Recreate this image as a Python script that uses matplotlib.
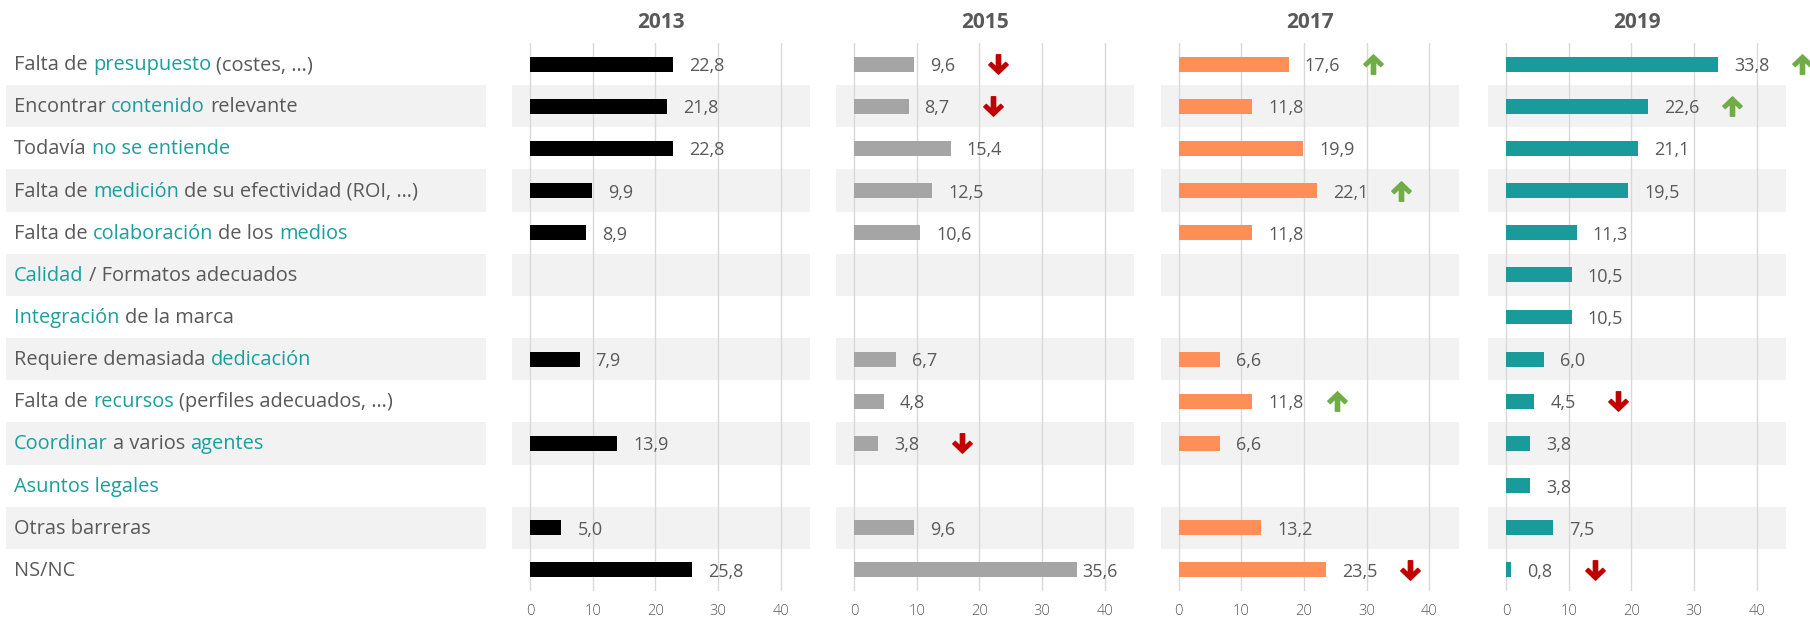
import re
import numpy as np
import matplotlib
matplotlib.use("Agg")
import matplotlib.pyplot as plt
from matplotlib.path import Path
from matplotlib.transforms import ScaledTranslation

plt.rcParams['font.family'] = ['Open Sans', 'DejaVu Sans']

# ---------------- data ----------------
# words in [brackets] are highlighted in teal
categories = [
    "Falta de [presupuesto] (costes, …)",
    "Encontrar [contenido] relevante",
    "Todavía [no se entiende]",
    "Falta de [medición] de su efectividad (ROI, …)",
    "Falta de [colaboración] de los [medios]",
    "[Calidad] / Formatos adecuados",
    "[Integración] de la marca",
    "Requiere demasiada [dedicación]",
    "Falta de [recursos] (perfiles adecuados, …)",
    "[Coordinar] a varios [agentes]",
    "[Asuntos legales]",
    "Otras barreras",
    "NS/NC",
]
years = ["2013", "2015", "2017", "2019"]
nan = np.nan
v2013 = [22.8, 21.8, 22.8, 9.9, 8.9, nan, nan, 7.9, nan, 13.9, nan, 5.0, 25.8]
v2015 = [9.6, 8.7, 15.4, 12.5, 10.6, nan, nan, 6.7, 4.8, 3.8, nan, 9.6, 35.6]
v2017 = [17.6, 11.8, 19.9, 22.1, 11.8, nan, nan, 6.6, 11.8, 6.6, nan, 13.2, 23.5]
v2019 = [33.8, 22.6, 21.1, 19.5, 11.3, 10.5, 10.5, 6.0, 4.5, 3.8, 3.8, 7.5, 0.8]
t2013 = [""] * 13
t2015 = ["down", "down", "", "", "", "", "", "", "", "down", "", "", ""]
t2017 = ["up", "", "", "up", "", "", "", "", "up", "", "", "", "down"]
t2019 = ["up", "up", "", "", "", "", "", "", "down", "", "", "", "down"]
ticks = [0, 10, 20, 30, 40]

series = [v2013, v2015, v2017, v2019]
trends = [t2013, t2015, t2017, t2019]
colors = ["#000000", "#A5A5A5", "#FF8F57", "#1A9B9B"]

# ---------------- style ----------------
TXT = "#595959"
HL = "#1A9E9E"
STRIPE = "#F2F2F2"
GRID = "#D9D9D9"
UP = "#70AD47"
DOWN = "#C00000"

W, H = 1810, 617
fig = plt.figure(figsize=(W / 100, H / 100), dpi=100)
n = len(categories)
top_px, bot_px = 43, 591
ay = (H - bot_px) / H
ah = (bot_px - top_px) / H

# arrow markers
up_verts = [(0, 0.5), (0.5, 0.02), (0.37, -0.11), (0.11, 0.14), (0.11, -0.5),
            (-0.11, -0.5), (-0.11, 0.14), (-0.37, -0.11), (-0.5, 0.02), (0, 0.5)]
up_path = Path(up_verts, closed=True)
down_path = Path([(x, -y) for x, y in up_verts], closed=True)

# ---------------- label column ----------------
lab = fig.add_axes([6 / W, ay, 480 / W, ah])
lab.set_xlim(6, 486)
lab.set_ylim(n - 0.5, -0.5)
lab.axis("off")
for i in range(n):
    if i % 2 == 1:
        lab.axhspan(i - 0.5, i + 0.5, color=STRIPE, lw=0, zorder=0.1)

renderer = fig.canvas.get_renderer()
LFS = 14.4
tr = lab.transData + ScaledTranslation(0, -6 / 100, fig.dpi_scale_trans)


def textwidth(s):
    t = lab.text(0, 0, s, fontsize=LFS)
    w = t.get_window_extent(renderer).width
    t.remove()
    return w


space_w = textwidth("a a") - textwidth("aa")

for i, cat in enumerate(categories):
    parts = re.split(r"(\[[^\]]+\])", cat)
    segs = []
    for p in parts:
        if not p.strip():
            continue
        if p.startswith("["):
            segs.append((p[1:-1], True))
        else:
            segs.append((p.strip(), False))
    x = 14
    for k, (s, hl) in enumerate(segs):
        t = lab.text(x, i, s, fontsize=LFS, color=HL if hl else TXT,
                     ha="left", va="baseline", transform=tr)
        x += t.get_window_extent(renderer).width + space_w

# ---------------- panels ----------------
unit = 6.27
x0s = [530, 854, 1178.5, 1506]
xmin, xmax = -2.87, 44.66
for year, vals, trd, col, x0 in zip(years, series, trends, colors, x0s):
    left = x0 + xmin * unit
    ax = fig.add_axes([left / W, ay, (xmax - xmin) * unit / W, ah])
    ax.set_xlim(xmin, xmax)
    ax.set_ylim(n - 0.5, -0.5)
    for s in ax.spines.values():
        s.set_visible(False)
    ax.set_yticks([])
    ax.set_xticks(ticks)
    ax.tick_params(axis="x", length=0, labelsize=10.5, labelcolor=TXT, pad=9.5)
    for lbl in ax.get_xticklabels():
        lbl.set_fontweight("light")
    ax.set_axisbelow(True)
    ax.xaxis.grid(True, color=GRID, lw=1, zorder=0.5)
    for i in range(n):
        if i % 2 == 1:
            ax.axhspan(i - 0.5, i + 0.5, color=STRIPE, lw=0, zorder=0.1)
    rows = [i for i, v in enumerate(vals) if not np.isnan(v)]
    ax.barh(rows, [vals[i] for i in rows], height=0.355, color=col, zorder=2)
    for i in rows:
        v = vals[i]
        gap = 5 if v > 35 else 16
        ax.annotate(f"{v:.1f}".replace(".", ","), xy=(v, i), xytext=(gap, -7),
                    textcoords="offset pixels", ha="left", va="baseline",
                    fontsize=13, color=TXT, annotation_clip=False)
        if trd[i]:
            mk = up_path if trd[i] == "up" else down_path
            ax.plot([v + 13.4], [i], marker=mk, markersize=14, ls="none",
                    color=UP if trd[i] == "up" else DOWN, clip_on=False, zorder=3)
    ax.set_title(year, fontsize=15, fontweight="bold", color=TXT, pad=11)

fig.savefig("out.png", dpi=100)
